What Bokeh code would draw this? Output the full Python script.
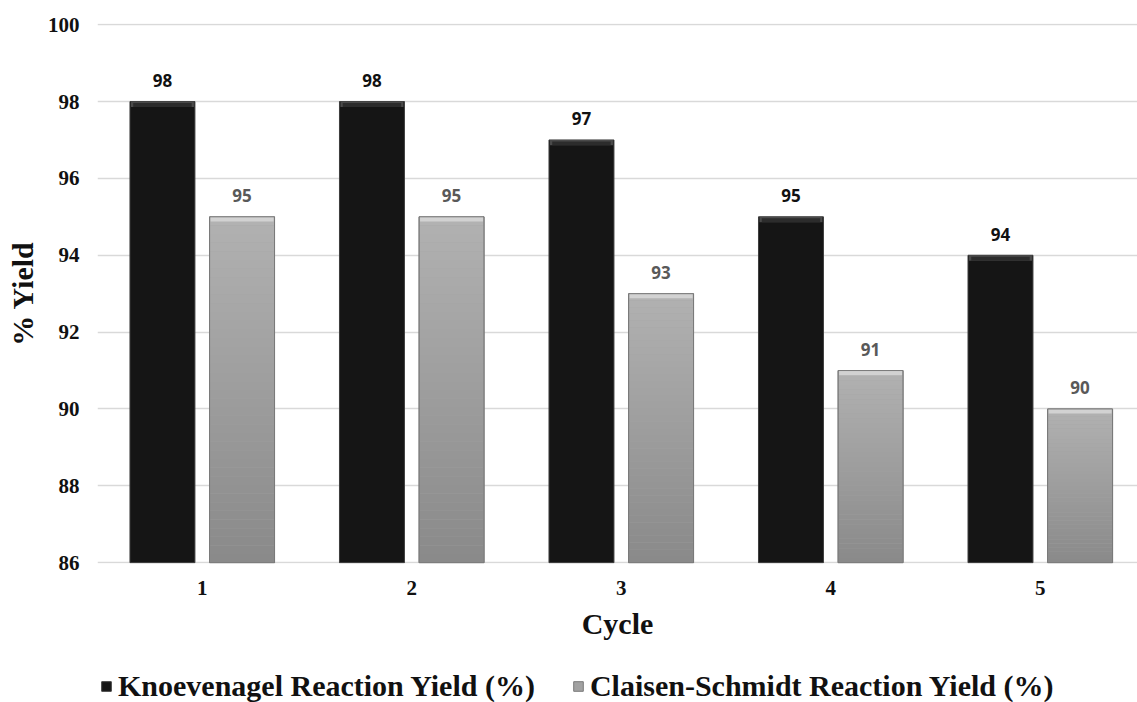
import numpy as np
from bokeh.plotting import figure
from bokeh.layouts import column
from bokeh.models import (ColumnDataSource, FixedTicker, LabelSet, Legend, LegendItem)
from bokeh.core.properties import value
from bokeh.embed import file_html
from bokeh.resources import INLINE

# Reaction yields over five catalyst reuse cycles
cycles = [1, 2, 3, 4, 5]
knoevenagel = [98, 98, 97, 95, 94]
claisen = [95, 95, 93, 91, 90]
y_ticks = [86, 88, 90, 92, 94, 96, 98, 100]
series_names = ["Knoevenagel Reaction Yield (%)", "Claisen-Schmidt Reaction Yield (%)"]

Y_MIN, Y_MAX = 86, 100
SERIF = "Liberation Serif"
SANS = "Open Sans"
DARK_FILL, DARK_LINE = "#151515", "#3c3c3c"
LIGHT_FILL, LIGHT_LINE = "#a2a2a2", "#7a7a7a"

p = figure(frame_width=1040, frame_height=540, output_backend="svg", toolbar_location=None,
           x_range=(0.5, 5.464), y_range=(Y_MIN - 0.02, Y_MAX + 0.03),
           min_border_left=97, min_border_right=0, min_border_top=23,
           min_border_bottom=103)
p.outline_line_color = None
p.background_fill_color = "white"
p.border_fill_color = "white"

off = 0.19
w = 0.31
xk = [c - off for c in cycles]
xc = [c + off for c in cycles]

# dark series: solid bars with a lighter bevel near the top
src_k = ColumnDataSource(dict(x=xk, top=knoevenagel, lab=[str(v) for v in knoevenagel]))
p.vbar(x="x", top="top", bottom=Y_MIN, width=w, source=src_k,
       fill_color=DARK_FILL, line_color=DARK_LINE, line_width=1)
bevel_k = ColumnDataSource(dict(x=xk, top=knoevenagel,
                                bot=[v - 0.14 for v in knoevenagel]))
p.vbar(x="x", top="top", bottom="bot", width=w * 0.97, source=bevel_k,
       fill_color="#4a4a4a", line_color=None)
bevel_k2 = ColumnDataSource(dict(x=xk, top=[v - 0.04 for v in knoevenagel],
                                 bot=[v - 0.14 for v in knoevenagel]))
p.vbar(x="x", top="top", bottom="bot", width=w * 0.9, source=bevel_k2,
       fill_color="#2c2c2c", line_color=None)

# light series: base bar, then a vertical shading built from thin slices
src_c = ColumnDataSource(dict(x=xc, top=claisen, lab=[str(v) for v in claisen]))
p.vbar(x="x", top="top", bottom=Y_MIN, width=w, source=src_c,
       fill_color=LIGHT_FILL, line_color=LIGHT_LINE, line_width=1)

n = 40
lo = np.array([0x8a, 0x8a, 0x8a], float)
hi = np.array([0xb2, 0xb2, 0xb2], float)
sx, sb, st, sc = [], [], [], []
for xv, v in zip(xc, claisen):
    for k in range(n):
        t = k / (n - 1)
        sx.append(xv)
        sb.append(Y_MIN + (v - Y_MIN) * k / n)
        st.append(Y_MIN + (v - Y_MIN) * (k + 1) / n)
        c = (lo + (hi - lo) * t).astype(int)
        sc.append("#%02x%02x%02x" % tuple(c))
p.vbar(x=sx, top=st, bottom=sb, width=w * 0.985, fill_color=sc, line_color=None)
bevel_c = ColumnDataSource(dict(x=xc, top=claisen, bot=[v - 0.12 for v in claisen]))
p.vbar(x="x", top="top", bottom="bot", width=w * 0.97, source=bevel_c,
       fill_color="#d2d2d2", line_color=None)
p.vbar(x="x", top="top", bottom=Y_MIN, width=w, source=src_c,
       fill_alpha=0, line_color=LIGHT_LINE, line_width=1)

# value labels above the bars
p.add_layout(LabelSet(x="x", y="top", text="lab", source=src_k, y_offset=21,
                      text_align="center", text_baseline="middle",
                      text_font=value(SANS), text_font_style="bold",
                      text_font_size="17px", text_color="#111111"))
p.add_layout(LabelSet(x="x", y="top", text="lab", source=src_c, y_offset=21,
                      text_align="center", text_baseline="middle",
                      text_font=value(SANS), text_font_style="bold",
                      text_font_size="17px", text_color="#595959"))

# axes
p.xaxis.ticker = FixedTicker(ticks=cycles)
p.yaxis.ticker = FixedTicker(ticks=y_ticks)
for ax in (p.xaxis[0], p.yaxis[0]):
    ax.axis_line_color = None
    ax.major_tick_line_color = None
    ax.minor_tick_line_color = None
    ax.major_tick_out = 0
    ax.major_tick_in = 0
    ax.minor_tick_out = 0
    ax.major_label_text_font = SERIF
    ax.major_label_text_font_style = "bold"
    ax.major_label_text_font_size = "21px"
    ax.major_label_text_color = "#111111"
    ax.axis_label_text_font = SERIF
    ax.axis_label_text_font_style = "bold"
    ax.axis_label_text_font_size = "30px"
    ax.axis_label_text_color = "#111111"
p.xaxis.axis_label = "Cycle"
p.yaxis.axis_label = "% Yield"
p.xaxis.major_label_standoff = 17
p.xaxis.axis_label_standoff = 9
p.yaxis.major_label_standoff = 18
p.yaxis.axis_label_standoff = 6

p.xgrid.grid_line_color = None
p.ygrid.grid_line_color = "#d9d9d9"
p.ygrid.grid_line_width = 1.5

# legend strip under the chart; swatch renderers sit outside the visible range
leg = figure(width=1137, height=39, output_backend="svg", toolbar_location=None,
             x_range=(0, 1), y_range=(0, 1), min_border=0)
leg.axis.visible = False
leg.grid.grid_line_color = None
leg.outline_line_color = None
hidden = ColumnDataSource(dict(x=[-10], top=[-10]))
sw_k = leg.vbar(x="x", top="top", width=0.1, source=hidden,
                fill_color=DARK_FILL, line_color=DARK_LINE)
sw_c = leg.vbar(x="x", top="top", width=0.1, source=hidden,
                fill_color=LIGHT_FILL, line_color=LIGHT_LINE)
legend = Legend(items=[LegendItem(label=series_names[0], renderers=[sw_k], index=0),
                       LegendItem(label=series_names[1], renderers=[sw_c], index=0)],
                orientation="horizontal", location=(3, 2),
                glyph_width=12, glyph_height=12, label_standoff=6, spacing=37,
                padding=0, margin=0, border_line_color=None, background_fill_alpha=0,
                label_text_font=SERIF, label_text_font_style="bold",
                label_text_font_size="30px", label_text_color="#111111")
leg.add_layout(legend, "center")

open("out.html", "w").write(file_html(column(p, leg, spacing=0), INLINE))
